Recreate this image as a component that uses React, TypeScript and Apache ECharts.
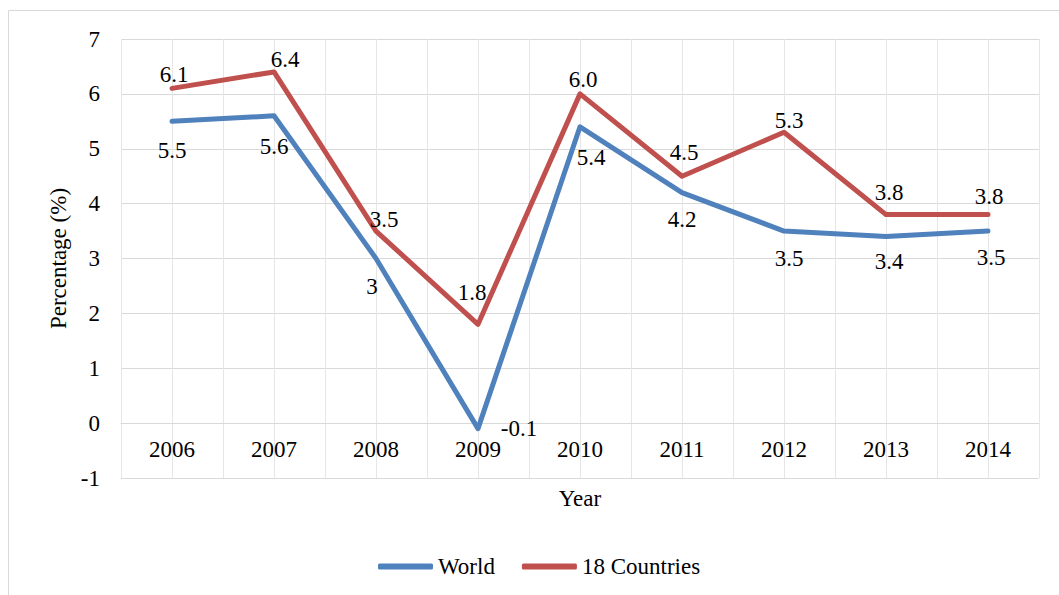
import React, { useEffect, useRef } from "react";
import * as echarts from "echarts";

// Annual GDP growth (%), 2006–2014
const years = ["2006", "2007", "2008", "2009", "2010", "2011", "2012", "2013", "2014"];
const worldGrowth = [5.5, 5.6, 3, -0.1, 5.4, 4.2, 3.5, 3.4, 3.5];
const countriesGrowth = [6.1, 6.4, 3.5, 1.8, 6.0, 4.5, 5.3, 3.8, 3.8];

// Value-label nudges (px) so the numbers sit clear of the lines
const worldLabelOffsets = [
  [0, 29], [0, 31], [-4, 28], [41, 0], [11, 31], [0, 27], [5, 27], [3, 25], [3, 26],
];
const countriesLabelOffsets = [
  [2, -14], [11, -12], [8, -12], [-6, -32], [3, -14], [2, -24], [5, -12], [3, -22], [1, -18],
];

const FONT = "Liberation Serif";
const BLUE = "#4f81bd";
const RED = "#c0504d";

// Plot area: y runs -1..7 over 439px, so one unit is 54.875px
const UNIT_PX = 439 / 8;

function buildSeriesData(values: number[], offsets: number[][]) {
  return values.map((v, i) => ({
    value: [i, v],
    label: { offset: offsets[i] },
  }));
}

export default function App() {
  const ref = useRef<HTMLDivElement>(null);

  useEffect(() => {
    if (!ref.current) return;
    const chart = echarts.init(ref.current, null, { renderer: "svg" });

    const labelBase = {
      show: true,
      position: "inside",
      color: "#000",
      fontFamily: FONT,
      fontSize: 23,
    };

    chart.setOption({
      animation: false,
      backgroundColor: "#fff",
      textStyle: { fontFamily: FONT },
      graphic: [
        {
          type: "rect",
          shape: { x: 8.5, y: 10.5, width: 1200, height: 800 },
          style: { fill: "none", stroke: "#d9d9d9", lineWidth: 1 },
          silent: true,
        },
      ],
      grid: { left: 121, right: 20, top: 39, bottom: 117 },
      legend: {
        left: 373,
        top: 550,
        icon: "roundRect",
        itemWidth: 55,
        itemHeight: 6,
        itemGap: 27,
        textStyle: { color: "#000", fontFamily: FONT, fontSize: 23 },
        data: ["World", "18 Countries"],
      },
      xAxis: {
        type: "value",
        min: -0.5,
        max: 8.5,
        interval: 0.5,
        // year labels hang from the zero line
        offset: -UNIT_PX,
        name: "Year",
        nameLocation: "middle",
        nameGap: 64,
        nameTextStyle: { color: "#000", fontFamily: FONT, fontSize: 23 },
        axisLine: { show: true, onZero: false, lineStyle: { color: "#d9d9d9", width: 1 } },
        axisTick: { show: false },
        axisLabel: {
          color: "#000",
          fontFamily: FONT,
          fontSize: 23,
          margin: 15,
          formatter: (v: number) =>
            Number.isInteger(v) && v >= 0 && v < years.length ? years[v] : "",
        },
        splitLine: { show: true, lineStyle: { color: "#e6e6e6", width: 1 } },
      },
      yAxis: {
        type: "value",
        min: -1,
        max: 7,
        interval: 1,
        name: "Percentage (%)",
        nameLocation: "middle",
        nameGap: 50,
        nameTextStyle: { color: "#000", fontFamily: FONT, fontSize: 23 },
        axisLine: { show: false, onZero: false },
        axisTick: { show: false },
        axisLabel: { color: "#000", fontFamily: FONT, fontSize: 23, margin: 21 },
        splitLine: { show: true, lineStyle: { color: "#d9d9d9", width: 1 } },
      },
      series: [
        {
          name: "World",
          type: "line",
          data: buildSeriesData(worldGrowth, worldLabelOffsets),
          symbol: "circle",
          symbolSize: 1,
          showSymbol: true,
          itemStyle: { color: BLUE },
          lineStyle: { color: BLUE, width: 5, cap: "round", join: "round" },
          label: { ...labelBase, formatter: (p: any) => String(p.value[1]) },
        },
        {
          name: "18 Countries",
          type: "line",
          data: buildSeriesData(countriesGrowth, countriesLabelOffsets),
          symbol: "circle",
          symbolSize: 1,
          showSymbol: true,
          itemStyle: { color: RED },
          lineStyle: { color: RED, width: 5, cap: "round", join: "round" },
          label: { ...labelBase, formatter: (p: any) => p.value[1].toFixed(1) },
        },
      ],
    });

    return () => chart.dispose();
  }, []);

  return (
    <div
      ref={ref}
      style={{ position: "absolute", left: 0, top: 0, width: 1059, height: 595 }}
    />
  );
}
